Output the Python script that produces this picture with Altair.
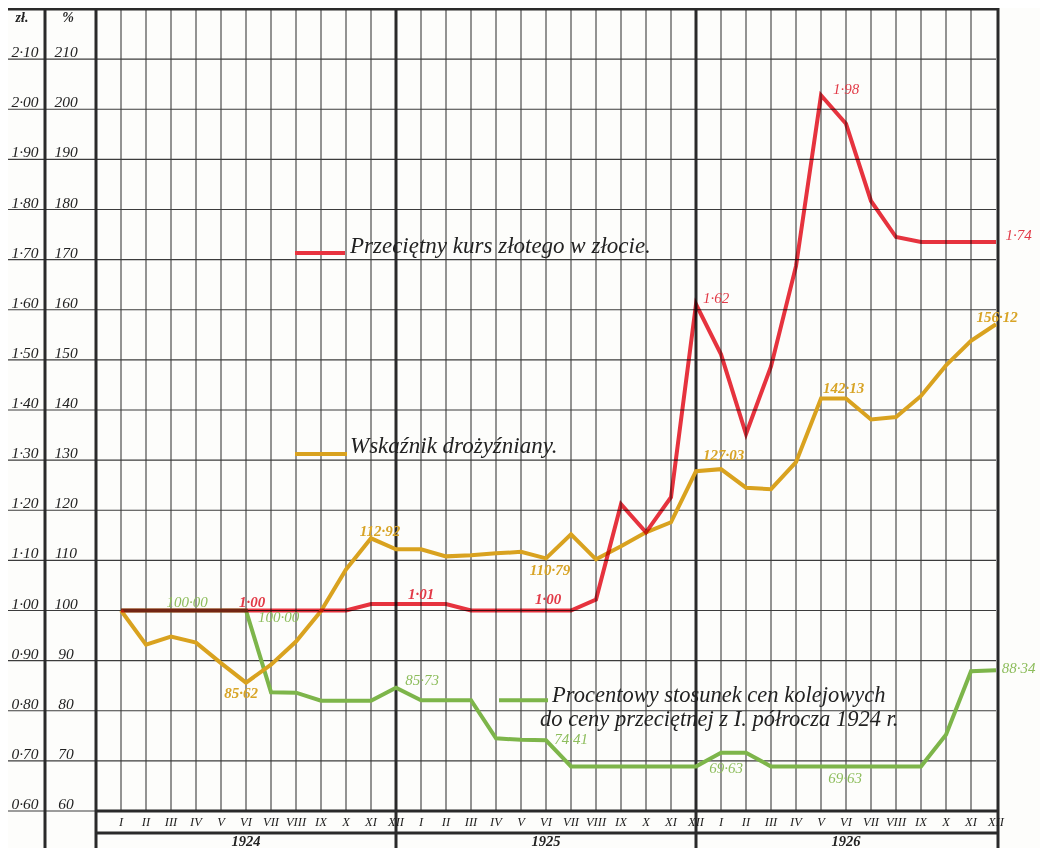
import altair as alt
import pandas as pd

# ---------------- data ----------------
months = list(range(1, 37))
month_labels = ["I", "II", "III", "IV", "V", "VI", "VII", "VIII", "IX", "X", "XI", "XII",
                "I", "II", "III", "IV", "V", "VI", "VII", "VIII", "IX", "X", "XI", "XII",
                "I", "II", "III", "IV", "V", "VI", "VII", "VIII", "IX", "X", "XI", "XII"]
years = ["1924", "1925", "1926"]
year_mid = [6, 18, 30]

# average zloty rate in gold (zl)
red_zl = [1.00, 1.00, 1.00, 1.00, 1.00, 1.00, 1.00, 1.00, 1.00, 1.00, 1.013, 1.013,
          1.013, 1.013, 1.00, 1.00, 1.00, 1.00, 1.00, 1.022, 1.212, 1.156, 1.226, 1.611,
          1.511, 1.352, 1.487, 1.687, 2.028, 1.971, 1.817, 1.745, 1.735, 1.735, 1.735, 1.735]
# cost of living index (%)
orange_pct = [100.0, 93.2, 94.8, 93.6, 89.5, 85.6, 89.2, 93.8, 99.9, 108.2, 114.4, 112.2,
              112.2, 110.8, 111.0, 111.4, 111.7, 110.4, 115.2, 110.2, 112.8, 115.6, 117.6, 127.8,
              128.2, 124.5, 124.2, 129.6, 142.3, 142.3, 138.1, 138.6, 142.8, 148.9, 153.8, 157.1]
# railway prices vs. average of first half of 1924 (%)
green_pct = [100.0, 100.0, 100.0, 100.0, 100.0, 100.0, 83.7, 83.6, 82.0, 82.0, 82.0, 84.6,
             82.1, 82.1, 82.1, 74.5, 74.2, 74.1, 68.9, 68.9, 68.9, 68.9, 68.9, 68.9,
             71.6, 71.6, 68.9, 68.9, 68.9, 68.9, 68.9, 68.9, 68.9, 75.2, 87.9, 88.1]

pct_ticks = [60, 70, 80, 90, 100, 110, 120, 130, 140, 150, 160, 170, 180, 190, 200, 210]
zl_tick_labels = ["0·60", "0·70", "0·80", "0·90", "1·00", "1·10", "1·20", "1·30", "1·40",
                  "1·50", "1·60", "1·70", "1·80", "1·90", "2·00", "2·10"]
pct_tick_labels = ["60", "70", "80", "90", "100", "110", "120", "130", "140", "150", "160",
                   "170", "180", "190", "200", "210"]

# value annotations: text, month position, value position, series
ann_text = ["1·00", "1·01", "1·00", "1·62", "1·98", "1·74",
            "85·62", "112·92", "110·79", "127·03", "142·13", "156·12",
            "100·00", "100·00", "85·73", "74·41", "69·63", "69·63", "88·34"]
ann_x = [6.24, 13.0, 18.08, 24.8, 30.0, 36.9,
         5.8, 11.36, 18.16, 25.1, 29.9, 36.04,
         3.64, 7.3, 13.04, 19.0, 25.2, 29.96, 36.9]
ann_y = [101.7, 103.3, 102.3, 162.3, 204.1, 174.9,
         83.5, 115.9, 108.1, 131.0, 144.4, 158.6,
         101.7, 98.7, 86.1, 74.3, 68.6, 66.6, 88.5]
ann_series = ["red", "red", "red", "red", "red", "red",
              "orange", "orange", "orange", "orange", "orange", "orange",
              "green", "green", "green", "green", "green", "green", "green"]
ann_bold = [1, 1, 1, 0, 0, 0,
            1, 1, 1, 1, 1, 1,
            0, 0, 0, 0, 0, 0, 0]

legend_text = ["Przeciętny kurs złotego w złocie.", "Wskaźnik drożyźniany.",
               "Procentowy stosunek cen kolejowych", "do ceny przeciętnej z I. półrocza 1924 r."]
legend_tx = [10.16, 10.16, 18.24, 17.76]
legend_ty = [171.3, 131.4, 81.75, 77.05]   # text baselines
legend_size = [23, 23, 22.5, 22.5]
legend_seg_series = ["red", "orange", "green"]
legend_seg_x = [7.96, 7.96, 16.12]
legend_seg_x2 = [9.96, 10.04, 18.08]
legend_seg_y = [171.3, 131.2, 82.1]

COL = {"red": "#e8333f", "orange": "#d9a21f", "green": "#7db54a"}
TXTCOL = {"red": "#e23a47", "orange": "#d8a426", "green": "#8dbd5c"}
INK = "#2a2a2a"
SERIF = "Liberation Serif"

# ---------------- scales ----------------
xs = alt.Scale(domain=[0, 36], nice=False, zero=False)
ys = alt.Scale(domain=[60, 220], nice=False, zero=False)
X = lambda f: alt.X(f, type="quantitative", scale=xs, axis=None)
Y = lambda f: alt.Y(f, type="quantitative", scale=ys, axis=None)

# ---------------- grid / frame ----------------
thin_rows = []
for v in pct_ticks[1:]:
    thin_rows.append({"x": -3.64, "x2": 36.0, "y": v, "y2": v})
thin_rows.append({"x": -3.64, "x2": 0.0, "y": 60, "y2": 60})
for m in months[:-1]:
    if m not in (12, 24):
        thin_rows.append({"x": m, "x2": m, "y": 60, "y2": 220})
thin = pd.DataFrame(thin_rows)

thick = pd.DataFrame([
    {"x": -3.64, "x2": 36.08, "y": 220, "y2": 220},
    {"x": 0.0, "x2": 36.08, "y": 60, "y2": 60},
    {"x": 0.0, "x2": 36.08, "y": 55.6, "y2": 55.6},
    {"x": -2.04, "x2": -2.04, "y": 50.5, "y2": 220},
    {"x": 0.0, "x2": 0.0, "y": 50.5, "y2": 220},
    {"x": 12, "x2": 12, "y": 50.5, "y2": 220},
    {"x": 24, "x2": 24, "y": 50.5, "y2": 220},
    {"x": 36.08, "x2": 36.08, "y": 50.5, "y2": 222},
])

def rule_layer(df, color, width):
    return alt.Chart(df).mark_rule(color=color, strokeWidth=width).encode(
        x=X("x"), x2="x2", y=Y("y"), y2="y2")

grid_thin = rule_layer(thin, "#3c3c3c", 1.1)
grid_thick = rule_layer(thick, INK, 3)

# ---------------- series ----------------
series_df = pd.DataFrame({
    "m": months * 3,
    "v": [z * 100 for z in red_zl] + orange_pct + green_pct,
    "s": ["red"] * 36 + ["orange"] * 36 + ["green"] * 36,
})

def series_layer(name, **kw):
    return alt.Chart(series_df).transform_filter(alt.datum.s == name).mark_line(
        color=COL[name], strokeWidth=4, strokeJoin="miter", **kw).encode(
        x=X("m"), y=Y("v"), order="m:Q")

line_green = series_layer("green")
line_orange = series_layer("orange")
line_red = series_layer("red", blend="multiply")

# ---------------- legend ----------------
seg_df = pd.DataFrame({"x": legend_seg_x, "x2": legend_seg_x2, "y": legend_seg_y,
                       "c": [COL[s] for s in legend_seg_series]})
seg = alt.Chart(seg_df).mark_rule(strokeWidth=4).encode(
    x=X("x"), x2="x2", y=Y("y"), color=alt.Color("c:N", scale=None))

leg_df = pd.DataFrame({"t": legend_text, "x": legend_tx, "y": legend_ty, "s": legend_size})

def leg_layer(size):
    return alt.Chart(leg_df).transform_filter(alt.datum.s == size).mark_text(
        font=SERIF, fontStyle="italic", fontSize=size, align="left",
        baseline="alphabetic", color="#222").encode(x=X("x"), y=Y("y"), text="t:N")

# ---------------- annotations ----------------
ann_df = pd.DataFrame({"t": ann_text, "x": ann_x, "y": ann_y,
                       "c": [TXTCOL[s] for s in ann_series], "b": ann_bold})

def ann_layer(bold):
    return alt.Chart(ann_df).transform_filter(alt.datum.b == bold).mark_text(
        font=SERIF, fontStyle="italic", fontSize=15, align="center", baseline="middle",
        fontWeight="bold" if bold else "normal").encode(
        x=X("x"), y=Y("y"), text="t:N", color=alt.Color("c:N", scale=None))

# ---------------- axis texts ----------------
ytick_df = pd.DataFrame({
    "v": pct_ticks * 2,
    "t": zl_tick_labels + pct_tick_labels,
    "x": [-2.84] * len(pct_ticks) + [-1.2] * len(pct_ticks),
})
ytick = alt.Chart(ytick_df).mark_text(font=SERIF, fontStyle="italic", fontSize=15.5,
                                      align="center", baseline="alphabetic", dy=-2,
                                      color="#222").encode(x=X("x"), y=Y("v"), text="t:N")

head_df = pd.DataFrame({"t": ["zł.", "%"], "x": [-2.96, -1.12], "y": [218.3, 218.3]})
head = alt.Chart(head_df).mark_text(font=SERIF, fontStyle="italic", fontWeight="bold",
                                    fontSize=14, align="center", baseline="middle",
                                    color="#222").encode(x=X("x"), y=Y("y"), text="t:N")

mon_df = pd.DataFrame({"m": months, "t": month_labels, "y": [57.8] * 36})
mon = alt.Chart(mon_df).mark_text(font=SERIF, fontStyle="italic", fontSize=12.5,
                                  align="center", baseline="middle", color="#222").encode(
    x=X("m"), y=Y("y"), text="t:N")

yr_df = pd.DataFrame({"m": year_mid, "t": years, "y": [53.9] * 3})
yr = alt.Chart(yr_df).mark_text(font=SERIF, fontStyle="italic", fontWeight="bold",
                                fontSize=14.5, align="center", baseline="middle",
                                color="#222").encode(x=X("m"), y=Y("y"), text="t:N")

chart = alt.layer(
    grid_thin, grid_thick, line_green, line_orange, line_red,
    seg, leg_layer(23), leg_layer(22.5), ann_layer(1), ann_layer(0), ytick, head, mon, yr,
).properties(
    width=900, height=802,
    padding={"left": 88, "top": 1, "right": 44, "bottom": 37},
    autosize=alt.AutoSizeParams(type="none"),
    background="#fdfdfb",
).configure_view(stroke=None)

chart.save("out.html", embed_options={"renderer": "svg", "actions": False})
